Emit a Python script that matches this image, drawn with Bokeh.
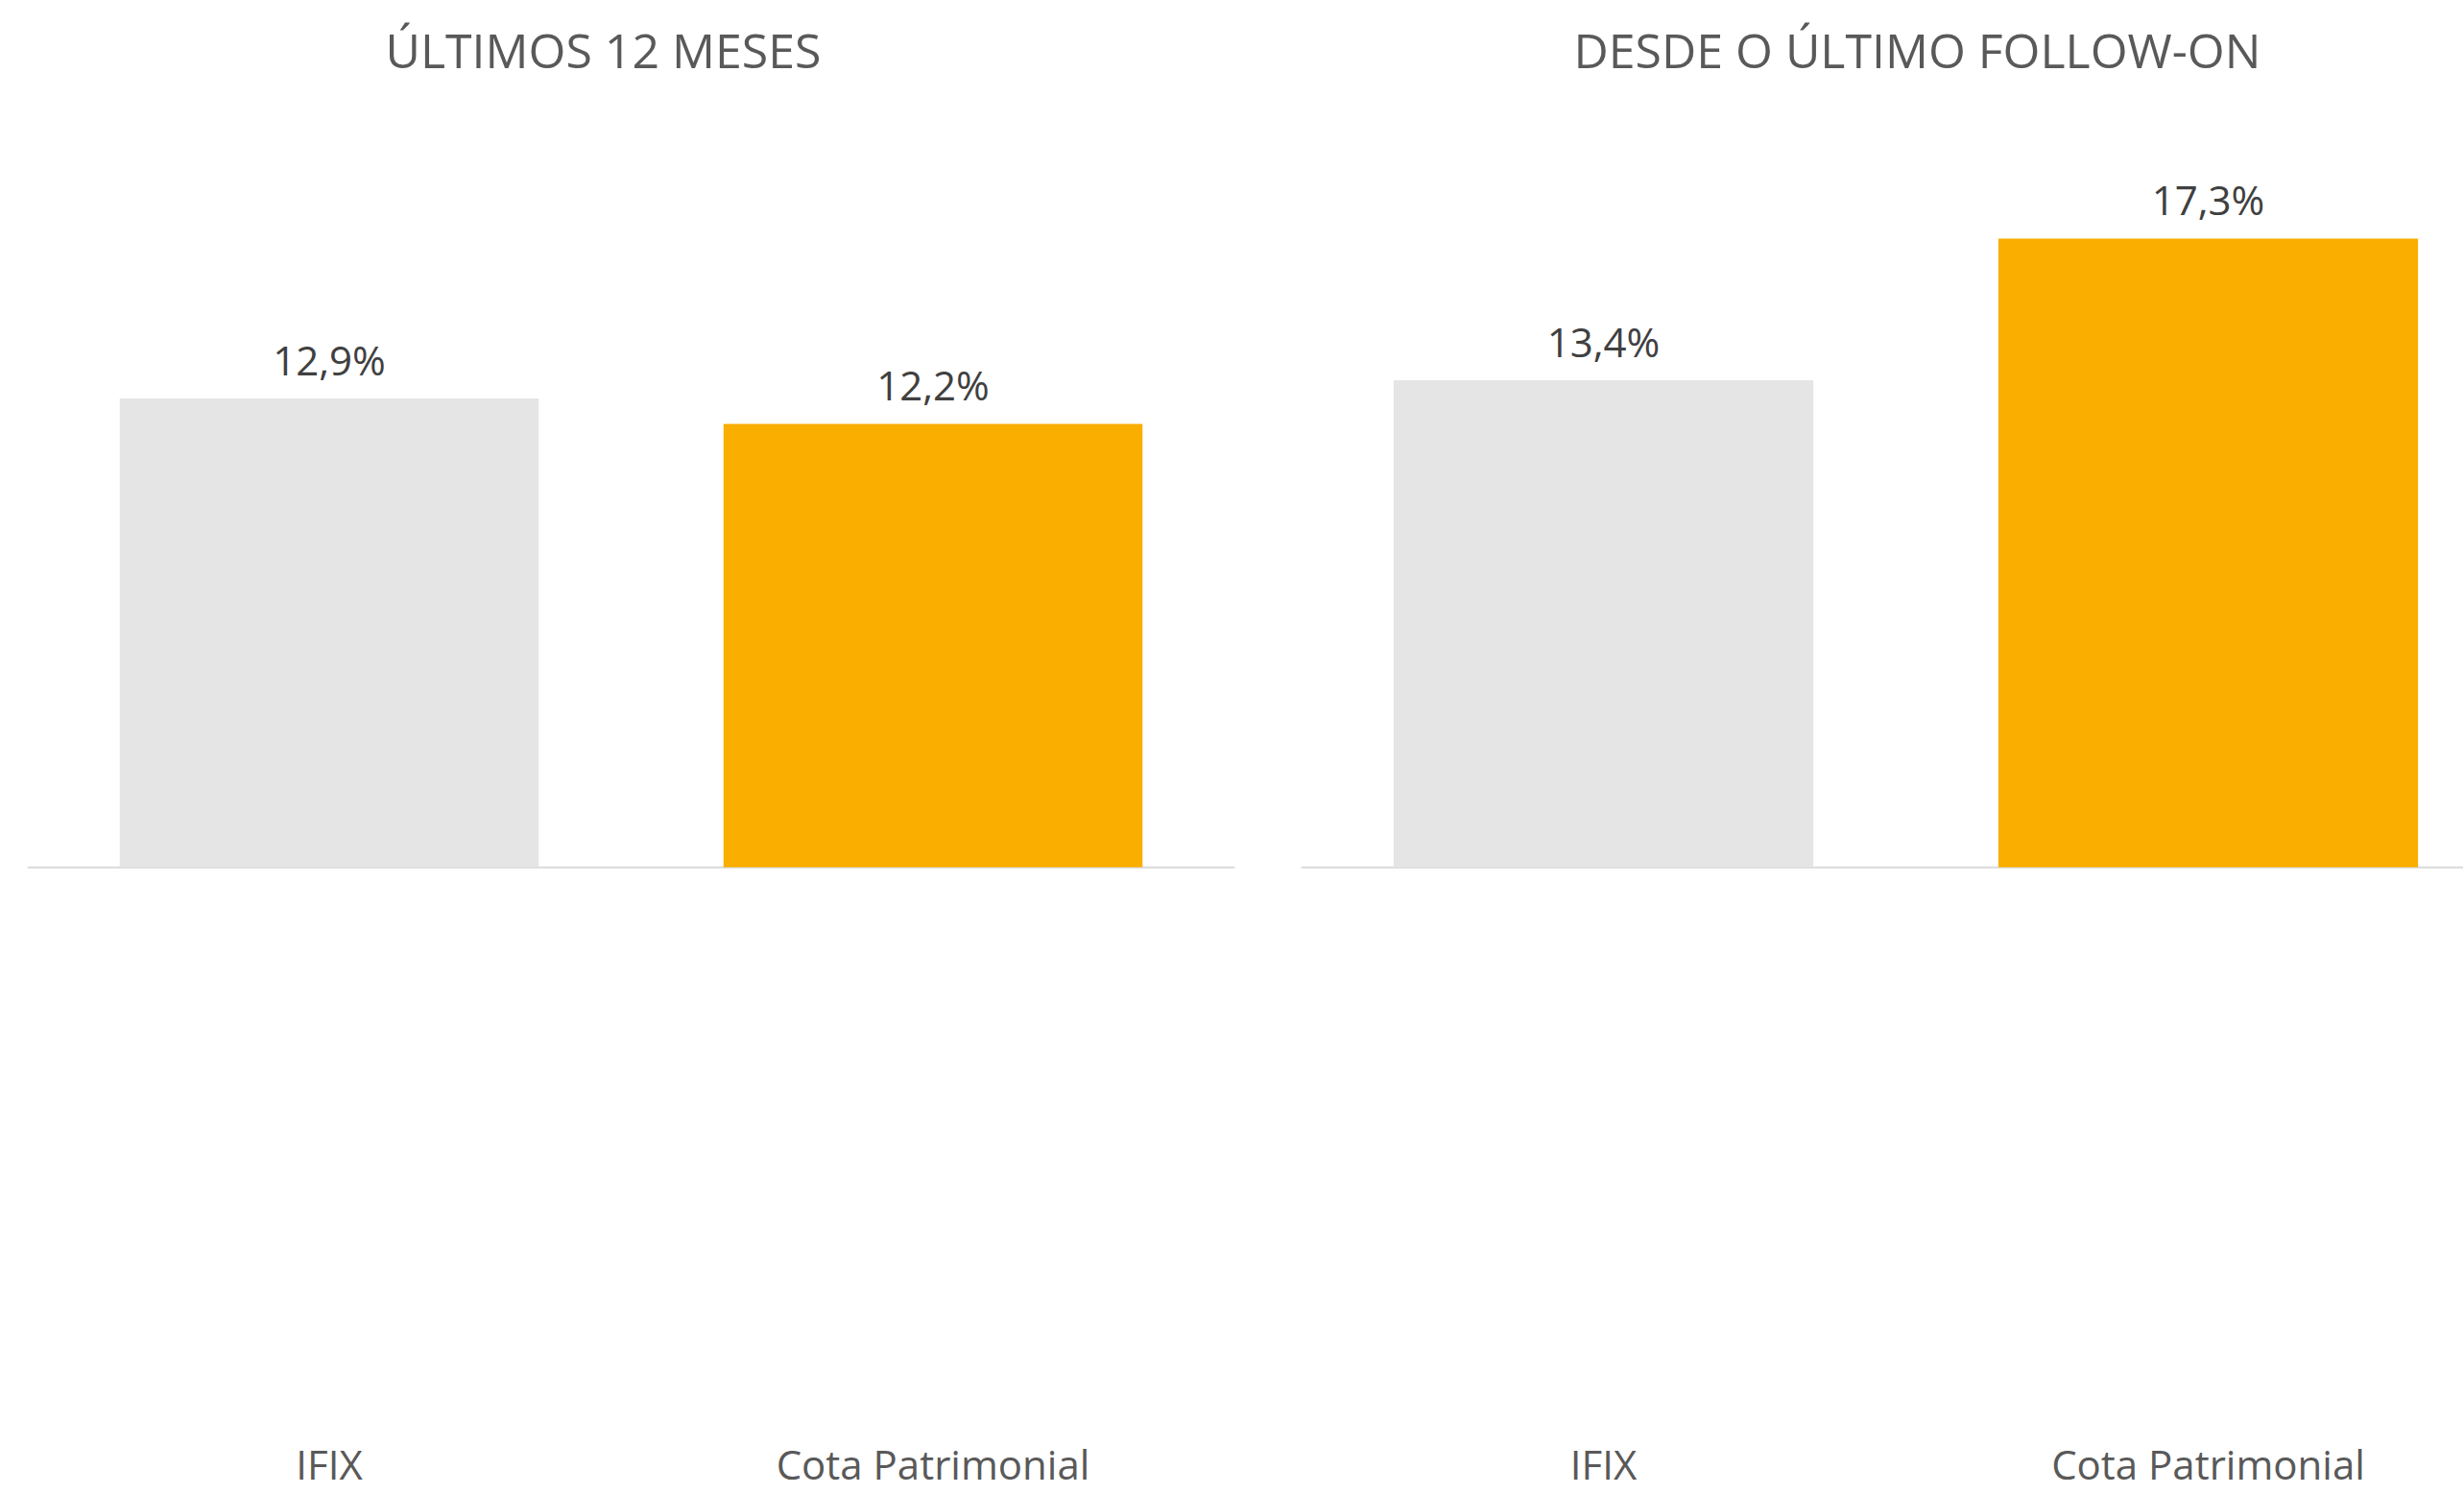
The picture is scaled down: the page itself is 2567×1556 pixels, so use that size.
from bokeh.plotting import figure
from bokeh.layouts import row
from bokeh.models import ColumnDataSource, Range1d
from bokeh.core.properties import value
from bokeh.embed import file_html
from bokeh.resources import INLINE

categories = ["IFIX", "Cota Patrimonial"]
ultimos_12_meses = [12.9, 12.2]
desde_follow_on = [13.4, 17.3]
panel_titles = ["ÚLTIMOS 12 MESES", "DESDE O ÚLTIMO FOLLOW-ON"]
bar_colors = ["#E5E5E5", "#F9AE00"]

FONT = "Open Sans"
HEIGHT = 1555
Y_START, Y_END = -17.23, 21.21


def make_panel(vals, title, width, b_left, b_right, x_end, title_offset):
    xs = [i + 0.5 for i in range(len(categories))]
    labels = [f"{v:.1f}%".replace(".", ",") for v in vals]
    src = ColumnDataSource(dict(x=xs, top=vals, color=bar_colors, label=labels,
                                cat=categories, base=[Y_START] * len(xs)))
    p = figure(width=width, height=HEIGHT,
               x_range=Range1d(0, x_end), y_range=Range1d(Y_START, Y_END),
               output_backend="svg", toolbar_location=None,
               min_border_left=b_left, min_border_right=b_right,
               min_border_top=98, min_border_bottom=0,
               x_axis_location=None, y_axis_location=None,
               outline_line_color=None,
               background_fill_color="white", border_fill_color="white")
    p.xgrid.visible = False
    p.ygrid.visible = False
    p.hspan(y=[0], line_color="#D9D9D9", line_width=2)
    p.vbar(x="x", top="top", bottom=0, width=0.694, fill_color="color",
           line_color=None, source=src)
    p.text(x="x", y="top", text="label", text_align="center",
           text_baseline="alphabetic", y_offset=-41,
           text_font=value(FONT), text_font_size="42px",
           text_color="#404040", source=src)
    p.text(x="x", y="base", text="cat", text_align="center",
           text_baseline="alphabetic", y_offset=-31,
           text_font=value(FONT), text_font_size="42px",
           text_color="#595959", source=src)
    p.title.text = title
    p.title.align = "left"
    p.title.offset = title_offset
    p.title.standoff = 30
    p.title.text_font = FONT
    p.title.text_font_size = "50px"
    p.title.text_font_style = "normal"
    p.title.text_color = "#595959"
    return p


p1 = make_panel(ultimos_12_meses, panel_titles[0], 1298, 28, 12, 2.0, 373)
p2 = make_panel(desde_follow_on, panel_titles[1], 1268, 57, 0, 1211 / 630, 284)

layout = row(p1, p2, spacing=0)
open("out.html", "w").write(file_html(layout, INLINE))
